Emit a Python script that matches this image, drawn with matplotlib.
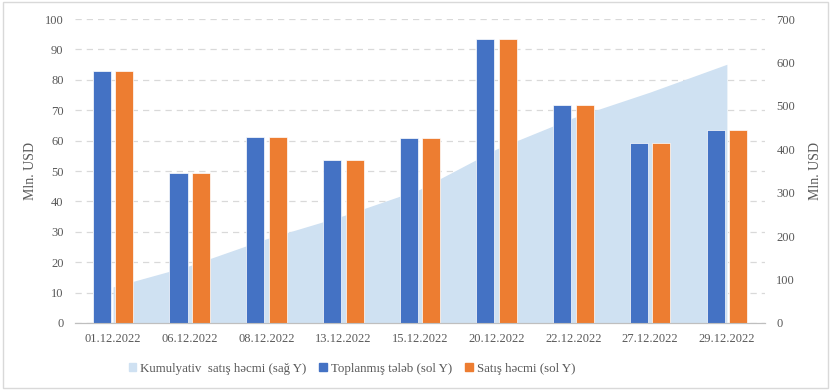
import matplotlib
matplotlib.use("Agg")
from matplotlib import pyplot as plt
from matplotlib.patches import Patch, Rectangle
import numpy as np

dates = ["01.12.2022", "06.12.2022", "08.12.2022", "13.12.2022", "15.12.2022",
         "20.12.2022", "22.12.2022", "27.12.2022", "29.12.2022"]
demand = [83.0, 49.2, 61.3, 53.6, 61.0, 93.4, 71.8, 59.1, 63.4]   # Toplanmış tələb
sales = [83.0, 49.2, 61.3, 53.6, 61.0, 93.4, 71.8, 59.1, 63.4]    # Satış həcmi
cumulative = [83, 132, 194, 247, 308, 401, 473, 532, 596]         # Kumulyativ satış həcmi

plt.rcParams['font.family'] = ['Liberation Serif', 'DejaVu Serif']

blue = '#4472C4'
orange = '#ED7D31'
area_col = '#CFE1F2'
txt = '#595959'

fig = plt.figure(figsize=(8.3, 3.9), dpi=100)
fig.patches.append(Rectangle((0.004, 0.005), 0.993, 0.99, transform=fig.transFigure,
                             fill=False, edgecolor='#D9D9D9', linewidth=1))
rect = [0.090, 0.172, 0.832, 0.779]
x = np.arange(len(dates))
xlim = (-0.5, len(dates) - 0.5)

# bottom layer: gridlines of the left axis
gax = fig.add_axes(rect)
gax.set_xlim(xlim)
gax.set_ylim(0, 100)
gax.set_yticks(range(0, 101, 10))
gax.yaxis.grid(True, color='#D9D9D9', linestyle=(0, (5, 4)), linewidth=0.9)
gax.set_xticks([])
gax.tick_params(left=False, labelleft=False)
for s in gax.spines.values():
    s.set_visible(False)

# middle layer: cumulative area on the right axis
ax2 = fig.add_axes(rect)
ax2.patch.set_visible(False)
ax2.fill_between(x, cumulative, color=area_col, linewidth=0)
ax2.set_xlim(xlim)
ax2.set_xticks([])
ax2.set_ylim(0, 700)
ax2.set_yticks(range(0, 701, 100))
ax2.yaxis.tick_right()
ax2.yaxis.set_label_position('right')

# top layer: bars on the left axis
ax = fig.add_axes(rect)
ax.patch.set_visible(False)
w = 0.235
ax.bar(x - 0.147, demand, w, color=blue, edgecolor='white', linewidth=0.5)
ax.bar(x + 0.147, sales, w, color=orange, edgecolor='white', linewidth=0.5)
ax.set_ylim(0, 100)
ax.set_yticks(range(0, 101, 10))
ax.set_xlim(xlim)
ax.set_xticks(x)
ax.set_xticklabels(dates)

for a in (ax, ax2):
    for s in ('top', 'left', 'right'):
        a.spines[s].set_visible(False)
    a.spines['bottom'].set_color('#BFBFBF')
    a.tick_params(length=0, labelsize=9, colors=txt, pad=8)
ax.tick_params(axis='x', pad=7)

ax.set_ylabel("Mln. USD", fontsize=10, color=txt, labelpad=6)
ax2.set_ylabel("Mln. USD", fontsize=10, color=txt, labelpad=10, rotation=90)

handles = [Patch(color=area_col, label="Kumulyativ  satış həcmi (sağ Y)"),
           Patch(color=blue, label="Toplanmış tələb (sol Y)"),
           Patch(color=orange, label="Satış həcmi (sol Y)")]
leg = fig.legend(handles=handles, loc='center', bbox_to_anchor=(0.424, 0.055), ncol=3,
                 frameon=False, fontsize=9.3, handlelength=0.6, handleheight=0.6,
                 handletextpad=0.3, columnspacing=1.0)
for t in leg.get_texts():
    t.set_color(txt)

fig.savefig("out.png", dpi=100)
